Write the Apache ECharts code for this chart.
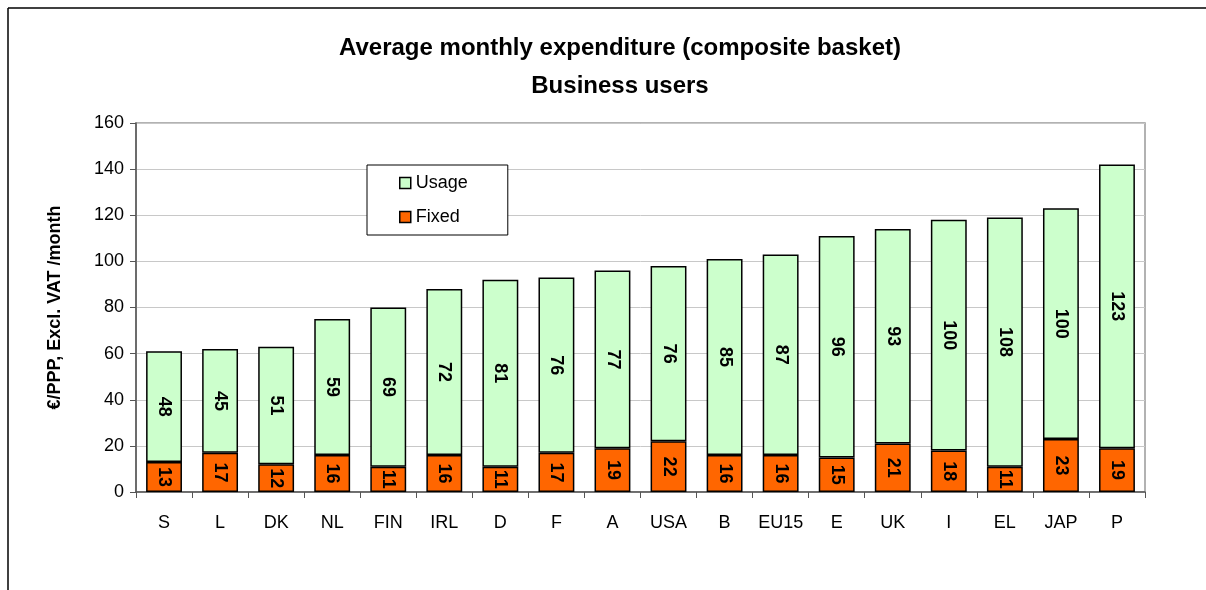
<!DOCTYPE html>
<html>
<head>
<meta charset="utf-8">
<script src="https://cdn.jsdelivr.net/npm/echarts@6/dist/echarts.min.js"></script>
<style>
html,body{margin:0;padding:0;background:#fff;}
#chart{width:1206px;height:590px;}
</style>
</head>
<body>
<div id="chart"></div>
<script>
//国家/地区
var countries = ['S','L','DK','NL','FIN','IRL','D','F','A','USA','B','EU15','E','UK','I','EL','JAP','P'];
//固定费用
var fixedAry = [13,17,12,16,11,16,11,17,19,22,16,16,15,21,18,11,23,19];
//使用费用
var usageAry = [48,45,51,59,69,72,81,76,77,76,85,87,96,93,100,108,100,123];
var yTicks = {min: 0, max: 160, step: 20};

var myChart = echarts.init(document.getElementById('chart'));
var font = 'Liberation Sans, Arial, sans-serif';
var barLabel = {
	show: true,
	position: 'inside',
	rotate: -90,
	fontFamily: font,
	fontSize: 18,
	fontWeight: 'bold',
	color: '#000'
};
var option = {
	backgroundColor: '#fff',
	animation: false,
	title: {
		text: 'Average monthly expenditure (composite basket)\nBusiness users',
		left: 615,
		textAlign: 'center',
		top: 24,
		textStyle: {fontFamily: font, fontSize: 24, fontWeight: 'bold', color: '#000', lineHeight: 38}
	},
	legend: {
		orient: 'vertical',
		left: 367,
		top: 165,
		width: 140,
		padding: [9, 40, 9, 32],
		itemGap: 16,
		itemWidth: 11,
		itemHeight: 11,
		icon: 'rect',
		borderColor: '#000',
		borderWidth: 1,
		backgroundColor: '#fff',
		data: ['Usage', 'Fixed'],
		itemStyle: {borderColor: '#000', borderWidth: 1.5},
		textStyle: {fontFamily: font, fontSize: 18, color: '#000'}
	},
	grid: {left: 136, right: 61, top: 123, bottom: 98, show: true, borderColor: '#999', borderWidth: 1.5},
	xAxis: {
		type: 'category',
		data: countries,
		axisLine: {lineStyle: {color: '#555', width: 1.5}},
		axisTick: {show: true, length: 6, interval: 0, lineStyle: {color: '#555'}},
		axisLabel: {fontFamily: font, fontSize: 18, color: '#000', margin: 22, interval: 0}
	},
	yAxis: {
		type: 'value',
		min: yTicks.min,
		max: yTicks.max,
		interval: yTicks.step,
		name: '€/PPP, Excl. VAT /month',
		nameLocation: 'middle',
		nameGap: 72,
		nameTextStyle: {fontFamily: font, fontSize: 18, fontWeight: 'bold', color: '#000'},
		axisLine: {show: true, lineStyle: {color: '#555', width: 1.5}},
		axisTick: {show: true, length: 6, lineStyle: {color: '#555'}},
		axisLabel: {fontFamily: font, fontSize: 18, color: '#000', margin: 12},
		splitLine: {lineStyle: {color: '#c8c8c8'}}
	},
	series: [
		{
			name: 'Fixed',
			type: 'bar',
			stack: 'total',
			barCategoryGap: '36%',
			data: fixedAry,
			itemStyle: {color: '#ff6600', borderColor: '#000', borderWidth: 1.5},
			label: barLabel
		},
		{
			name: 'Usage',
			type: 'bar',
			stack: 'total',
			data: usageAry,
			itemStyle: {color: '#ccffcc', borderColor: '#000', borderWidth: 1.5},
			label: barLabel
		}
	],
	graphic: [
		{type: 'line', shape: {x1: 8, y1: 8, x2: 1206, y2: 8}, style: {stroke: '#000', lineWidth: 1.5}},
		{type: 'line', shape: {x1: 8, y1: 8, x2: 8, y2: 590}, style: {stroke: '#000', lineWidth: 1.5}}
	]
};
myChart.setOption(option);
</script>
</body>
</html>
